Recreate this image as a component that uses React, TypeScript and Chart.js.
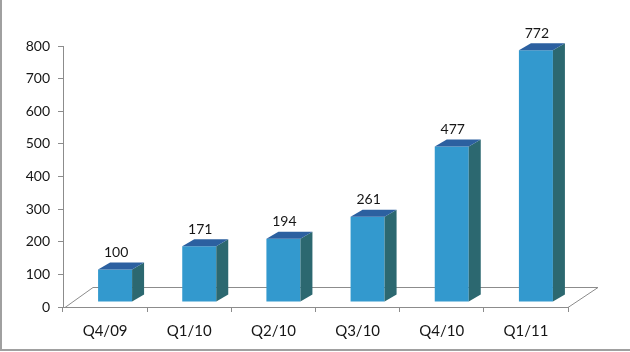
import React, { useEffect, useRef } from "react";
import { Chart, registerables } from "chart.js";

Chart.register(...registerables);

const categories = ["Q4/09", "Q1/10", "Q2/10", "Q3/10", "Q4/10", "Q1/11"];
const values = [100, 171, 194, 261, 477, 772];
const yMin = 0;
const yMax = 800;
const yStep = 100;

const FONT = "Lato";
const TEXT = "#161616";
const AXIS = "#8c8c8c";
const FRONT = "rgb(51,153,206)";
const TOP = "rgb(44,96,160)";
const SIDE = "rgb(44,104,112)";

// perspective offsets
const BAR_SHIFT_X = 10;
const BAR_SHIFT_Y = -5;
const BAR_DEPTH_X = 12;
const BAR_DEPTH_Y = -7;
const FLOOR_DX = 30;
const FLOOR_DY = -20;

const bar3d = {
  id: "bar3d",
  beforeDatasetsDraw(chart: any) {
    const { ctx, chartArea } = chart;
    const { left, right, bottom } = chartArea;
    ctx.save();
    ctx.strokeStyle = AXIS;
    ctx.lineWidth = 1;
    ctx.beginPath();
    ctx.moveTo(left + 2, bottom + 0.5);
    ctx.lineTo(left + FLOOR_DX, bottom + FLOOR_DY + 0.5);
    ctx.lineTo(right + FLOOR_DX, bottom + FLOOR_DY + 0.5);
    ctx.lineTo(right, bottom + 0.5);
    ctx.stroke();
    ctx.restore();
    ctx.save();
    ctx.translate(BAR_SHIFT_X, BAR_SHIFT_Y);
  },
  afterDatasetsDraw(chart: any) {
    const { ctx } = chart;
    const meta = chart.getDatasetMeta(0);
    meta.data.forEach((el: any, i: number) => {
      const p = el.getProps(["x", "y", "base", "width"], true);
      const l = p.x - p.width / 2;
      const r = p.x + p.width / 2;
      const t = p.y;
      const b = p.base;
      ctx.fillStyle = SIDE;
      ctx.beginPath();
      ctx.moveTo(r, t);
      ctx.lineTo(r + BAR_DEPTH_X, t + BAR_DEPTH_Y);
      ctx.lineTo(r + BAR_DEPTH_X, b + BAR_DEPTH_Y);
      ctx.lineTo(r, b);
      ctx.closePath();
      ctx.fill();
      ctx.fillStyle = TOP;
      ctx.beginPath();
      ctx.moveTo(l, t);
      ctx.lineTo(l + BAR_DEPTH_X, t + BAR_DEPTH_Y);
      ctx.lineTo(r + BAR_DEPTH_X, t + BAR_DEPTH_Y);
      ctx.lineTo(r, t);
      ctx.closePath();
      ctx.fill();
      ctx.fillStyle = TEXT;
      ctx.font = `14px ${FONT}`;
      ctx.textAlign = "center";
      ctx.textBaseline = "middle";
      ctx.fillText(String(values[i]), p.x + 1, t - 17);
    });
    ctx.restore();
  },
  afterDraw(chart: any) {
    const { ctx, width, height } = chart;
    ctx.save();
    ctx.strokeStyle = "#a0a0a0";
    ctx.lineWidth = 2;
    ctx.beginPath();
    ctx.moveTo(1, 0);
    ctx.lineTo(1, height - 2);
    ctx.lineTo(width, height - 2);
    ctx.stroke();
    ctx.restore();
  },
};

export default function App() {
  const ref = useRef<HTMLCanvasElement>(null);
  useEffect(() => {
    document.body.style.margin = "0";
    const chart = new Chart(ref.current!, {
      type: "bar",
      data: {
        labels: categories,
        datasets: [
          {
            data: values,
            backgroundColor: FRONT,
            borderWidth: 0,
            barPercentage: 0.404,
            categoryPercentage: 1,
            clip: false as any,
          },
        ],
      },
      options: {
        animation: false,
        responsive: false,
        events: [],
        layout: { padding: { top: 46, right: 62, left: 0, bottom: 0 } },
        plugins: { legend: { display: false }, tooltip: { enabled: false } },
        scales: {
          x: {
            afterFit: (s: any) => {
              s.height = 45;
            },
            grid: {
              drawOnChartArea: false,
              drawTicks: true,
              tickLength: 5,
              color: AXIS,
              offset: true,
            },
            border: { display: true, color: AXIS },
            ticks: {
              color: TEXT,
              font: { family: FONT, size: 15 },
              padding: 10,
              maxRotation: 0,
            },
          },
          y: {
            min: yMin,
            max: yMax,
            afterFit: (s: any) => {
              s.width = 63;
            },
            grid: {
              drawOnChartArea: false,
              drawTicks: true,
              tickLength: 5,
              color: AXIS,
            },
            border: { display: true, color: AXIS },
            ticks: {
              stepSize: yStep,
              color: TEXT,
              font: { family: FONT, size: 14 },
              padding: 8,
            },
          },
        },
      },
      plugins: [bar3d],
    });
    return () => chart.destroy();
  }, []);
  return (
    <div style={{ width: 630, height: 352 }}>
      <canvas ref={ref} width={630} height={352} />
    </div>
  );
}
